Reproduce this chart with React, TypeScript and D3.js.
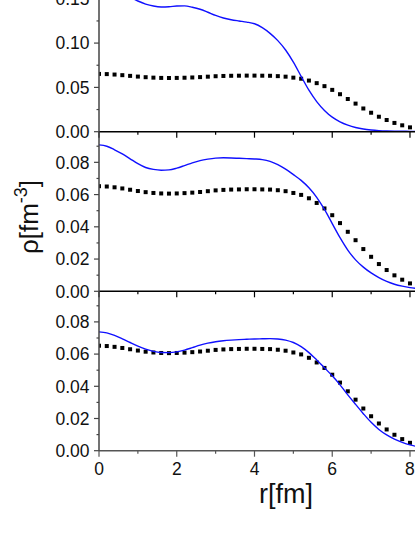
import React, {useEffect, useRef} from 'react';
import * as d3 from 'd3';

// radial grid (fm) shared by all curves
const radius = [0, 0.2, 0.4, 0.6, 0.8, 1.0, 1.2, 1.4, 1.6, 1.8, 2.0, 2.2, 2.4, 2.6, 2.8, 3.0, 3.2, 3.4, 3.6, 3.8,
    4.0, 4.2, 4.4, 4.6, 4.8, 5.0, 5.2, 5.4, 5.6, 5.8, 6.0, 6.2, 6.4, 6.6, 6.8, 7.0, 7.2, 7.4, 7.6, 7.8, 8.0, 8.2];

// dotted reference density (same in every panel), r = 0 .. 8.0
const densityRef = [0.0652, 0.0650, 0.0645, 0.0638, 0.0630, 0.0622, 0.0615, 0.0610, 0.0607, 0.0606, 0.0607,
    0.0609, 0.0612, 0.0616, 0.0621, 0.0626, 0.0629, 0.0631, 0.0632, 0.0633, 0.0633, 0.0632, 0.0631, 0.0627,
    0.0621, 0.0610, 0.0598, 0.0577, 0.0548, 0.0514, 0.0472, 0.0423, 0.0369, 0.0317, 0.0262, 0.0214, 0.0169,
    0.0132, 0.0099, 0.0072, 0.0049];

// blue curves, top / middle / bottom panel
const densityTop = [0.1600, 0.1595, 0.1578, 0.1552, 0.1518, 0.1475, 0.1440, 0.1418, 0.1408, 0.1410, 0.1418,
    0.1420, 0.1405, 0.1382, 0.1348, 0.1312, 0.1283, 0.1264, 0.1250, 0.1237, 0.1218, 0.1174, 0.1110, 0.1028,
    0.0922, 0.0785, 0.0625, 0.0468, 0.0340, 0.0240, 0.0164, 0.0112, 0.0075, 0.0048, 0.0030, 0.0019, 0.0012,
    0.0008, 0.0006, 0.0005, 0.0004, 0.0003];
const densityMid = [0.0908, 0.0900, 0.0878, 0.0852, 0.0822, 0.0792, 0.0768, 0.0756, 0.0751, 0.0753, 0.0764,
    0.0780, 0.0797, 0.0811, 0.0820, 0.0826, 0.0828, 0.0827, 0.0825, 0.0823, 0.0821, 0.0817, 0.0806, 0.0786,
    0.0758, 0.0724, 0.0688, 0.0642, 0.0583, 0.0508, 0.0420, 0.0333, 0.0256, 0.0195, 0.0150, 0.0114, 0.0085,
    0.0061, 0.0044, 0.0032, 0.0023, 0.0017];
const densityBot = [0.0738, 0.0732, 0.0716, 0.0695, 0.0672, 0.0650, 0.0631, 0.0617, 0.0610, 0.0609, 0.0614,
    0.0625, 0.0640, 0.0656, 0.0668, 0.0677, 0.0683, 0.0687, 0.0690, 0.0692, 0.0694, 0.0695, 0.0696, 0.0694,
    0.0687, 0.0672, 0.0646, 0.0609, 0.0564, 0.0515, 0.0465, 0.0409, 0.0347, 0.0288, 0.0230, 0.0176, 0.0132,
    0.0098, 0.0072, 0.0052, 0.0036, 0.0025];

const xMajor = [0, 2, 4, 6, 8];
const xMinor = [1, 3, 5, 7];
const topMajor = [0, 0.05, 0.10, 0.15];
const topMinor = [0.025, 0.075, 0.125];
const lowMajor = [0, 0.02, 0.04, 0.06, 0.08];
const lowMinor = [0.01, 0.03, 0.05, 0.07, 0.09];

const W = 415, H = 537;
const font = '"Liberation Sans", Arial, sans-serif';

const App = () => {
    const anchor = useRef(null);

    useEffect(() => {
        const svg = d3.select(anchor.current);
        svg.selectAll('*').remove();

        const x = d3.scaleLinear().domain([0, 8.129]).range([99, 415]);

        const panels = [
            {y: d3.scaleLinear().domain([0, 0.18]).range([131.7, -27.8]), blue: densityTop, major: topMajor, minor: topMinor},
            {y: d3.scaleLinear().domain([0, 0.099]).range([291.3, 131.7]), blue: densityMid, major: lowMajor, minor: lowMinor},
            {y: d3.scaleLinear().domain([0, 0.099]).range([450.7, 291.3]), blue: densityBot, major: lowMajor, minor: lowMinor}
        ];

        panels.forEach((p, i) => {
            const [y0, y1] = p.y.range();
            const clipId = 'clip' + i;
            svg.append('clipPath').attr('id', clipId)
                .append('rect').attr('x', 99).attr('y', y1).attr('width', 316).attr('height', y0 - y1);

            const g = svg.append('g').attr('clip-path', `url(#${clipId})`);

            // dotted reference as squares
            g.selectAll('rect.dot').data(densityRef).enter().append('rect')
                .attr('class', 'dot')
                .attr('x', (d, k) => x(radius[k]) - 2)
                .attr('y', d => p.y(d) - 2)
                .attr('width', 4).attr('height', 4)
                .attr('fill', '#000');

            const line = d3.line()
                .x((d, k) => x(radius[k]))
                .y(d => p.y(d))
                .curve(d3.curveMonotoneX);

            g.append('path').datum(p.blue)
                .attr('d', line)
                .attr('fill', 'none')
                .attr('stroke', '#1010ff')
                .attr('stroke-width', 1.4);

            const axisColor = i === 2 ? '#555' : '#000';
            // bottom axis of this panel
            svg.append('line').attr('x1', 99).attr('x2', 415).attr('y1', y0).attr('y2', y0)
                .attr('stroke', axisColor).attr('stroke-width', 1.5);
            svg.selectAll(null).data(xMajor).enter().append('line')
                .attr('x1', d => x(d)).attr('x2', d => x(d)).attr('y1', y0).attr('y2', y0 + 6)
                .attr('stroke', axisColor).attr('stroke-width', 1.2);
            svg.selectAll(null).data(xMinor).enter().append('line')
                .attr('x1', d => x(d)).attr('x2', d => x(d)).attr('y1', y0).attr('y2', y0 + 3)
                .attr('stroke', axisColor).attr('stroke-width', 1.2);

            // left ticks
            svg.selectAll(null).data(p.major).enter().append('line')
                .attr('x1', 94).attr('x2', 99).attr('y1', d => p.y(d)).attr('y2', d => p.y(d))
                .attr('stroke', '#444').attr('stroke-width', 1.2);
            svg.selectAll(null).data(p.minor).enter().append('line')
                .attr('x1', 96.5).attr('x2', 99).attr('y1', d => p.y(d)).attr('y2', d => p.y(d))
                .attr('stroke', '#444').attr('stroke-width', 1.2);
            svg.selectAll(null).data(p.major).enter().append('text')
                .attr('x', 89.5).attr('y', d => p.y(d)).attr('dy', '0.36em')
                .attr('text-anchor', 'end')
                .style('font-family', font).style('font-size', '17.5px').attr('fill', '#111')
                .text(d => d.toFixed(2));
        });

        // left axis line
        svg.append('line').attr('x1', 99).attr('x2', 99).attr('y1', 0).attr('y2', 450.7)
            .attr('stroke', '#444').attr('stroke-width', 1.5);

        // x tick labels on bottom panel
        svg.selectAll(null).data(xMajor).enter().append('text')
            .attr('x', d => x(d)).attr('y', 474.5)
            .attr('text-anchor', 'middle')
            .style('font-family', font).style('font-size', '17.5px').attr('fill', '#111')
            .text(d => d);

        svg.append('text').attr('x', 286).attr('y', 503)
            .attr('text-anchor', 'middle')
            .style('font-family', font).style('font-size', '27px').attr('fill', '#111')
            .text('r[fm]');

        const yl = svg.append('text')
            .attr('transform', 'translate(38,217) rotate(-90)')
            .attr('text-anchor', 'middle')
            .style('font-family', font).style('font-size', '26px').attr('fill', '#111');
        yl.append('tspan').text('ρ[fm');
        yl.append('tspan').attr('dy', -11).style('font-size', '18px').text('-3');
        yl.append('tspan').attr('dy', 11).text(']');
    }, []);

    return <svg ref={anchor} width={W} height={H}
                style={{position: 'absolute', left: 0, top: 0, background: '#fff'}}/>;
};

export default App;
